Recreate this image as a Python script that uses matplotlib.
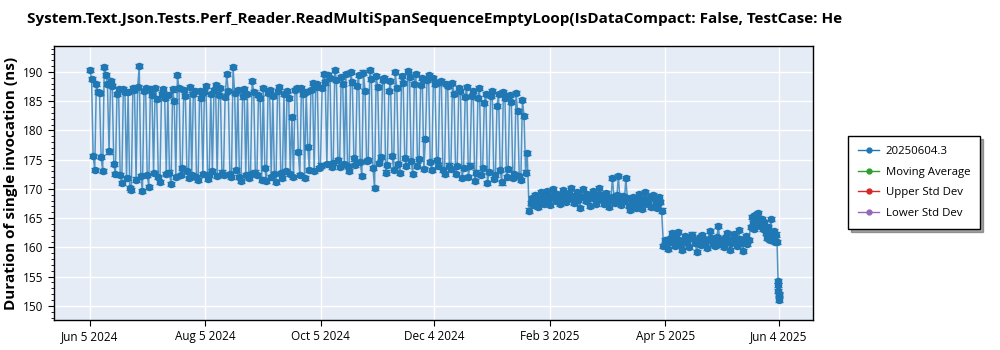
import numpy as np
import pandas as pd
import matplotlib
matplotlib.use('Agg')
import matplotlib.pyplot as plt
from matplotlib.ticker import MultipleLocator

plt.rcParams['font.family'] = ['Open Sans', 'DejaVu Sans']

title = 'System.Text.Json.Tests.Perf_Reader.ReadMultiSpanSequenceEmptyLoop(IsDataCompact: False, TestCase: He'
series_names = ['20250604.3', 'Moving Average', 'Upper Std Dev', 'Lower Std Dev']
series_colors = ['#1f77b4', '#2ca02c', '#d62728', '#9467bd']

# bimodal period, Jun 5 2024 -> Jan 22 2025
seg1_range = ('2024-06-05', '2025-01-22')
seg1 = [
    190.3, 188.8, 175.6, 173.3, 187.9, 186.5, 186.4, 175.5, 173.0, 190.9, 189.5, 187.9,
    176.4, 188.4, 187.6, 174.2, 172.6, 186.2, 187.1, 172.4, 171.0, 187.0, 186.6, 171.8,
    186.5, 170.2, 169.8, 187.3, 186.9, 171.6, 187.4, 191.0, 172.2, 169.6, 186.7, 187.2,
    172.4, 170.4, 187.0, 186.1, 172.7, 187.3, 185.4, 172.0, 171.2, 186.3, 187.1, 185.6,
    172.5, 186.0, 172.8, 170.8, 187.0, 185.0, 172.1, 189.4, 187.2, 172.3, 173.5, 186.9,
    185.9, 173.0, 171.8, 187.5, 172.4, 186.2, 186.8, 172.0, 171.5, 186.8, 185.5, 172.5,
    186.6, 187.6, 171.7, 172.4, 186.3, 173.0, 186.9, 187.8, 172.2, 186.1, 187.3, 172.8,
    172.3, 185.7, 189.6, 186.7, 172.6, 172.1, 190.8, 186.4, 173.2, 186.9, 172.0, 171.4,
    185.8, 187.0, 172.4, 186.2, 171.9, 172.5, 188.4, 186.6, 172.8, 172.3, 186.0, 185.5,
    171.6, 187.2, 173.5, 171.4, 186.4, 186.9, 172.0, 185.9, 172.5, 171.2, 186.7, 187.5,
    172.7, 171.8, 186.3, 173.1, 186.8, 185.6, 172.6, 182.3, 172.0, 186.9, 187.3, 176.3,
    172.3, 187.2, 186.3, 171.9, 186.6, 177.1, 173.3, 186.9, 188.1, 173.0, 187.5, 188.0,
    173.6, 174.0, 187.3, 189.7, 188.2, 174.2, 189.5, 188.9, 173.8, 174.5, 190.3, 188.6,
    175.0, 173.7, 189.2, 187.9, 174.3, 189.6, 173.9, 173.0, 190.0, 188.2, 175.2, 174.1,
    187.6, 189.4, 174.6, 172.2, 189.9, 186.8, 174.7, 175.0, 190.4, 188.8, 173.5, 170.1,
    189.3, 187.4, 174.5, 175.4, 188.7, 189.0, 172.8, 174.1, 186.7, 188.5, 175.6, 173.3,
    190.0, 187.2, 174.2, 172.7, 189.3, 188.1, 175.3, 173.9, 190.2, 189.1, 174.8, 172.6,
    188.0, 189.7, 174.0, 175.1, 187.8, 189.0, 173.4, 178.6, 188.7, 189.4, 174.6, 173.2,
    188.9, 187.9, 175.0, 174.0, 188.3, 188.4, 173.2, 172.6, 188.0, 187.6, 174.0, 173.4,
    188.1, 186.3, 172.5, 173.9, 187.3, 186.8, 171.8, 173.6, 185.7, 187.5, 172.1, 174.0,
    185.9, 186.8, 171.4, 172.8, 185.5, 187.2, 172.4, 173.5, 184.7, 186.3, 171.0, 172.9,
    185.9, 186.7, 171.7, 172.4, 184.2, 186.2, 173.3, 171.1, 186.5, 185.6, 172.0, 173.4,
    186.0, 184.9, 171.9, 172.6, 186.4, 183.3, 172.2, 171.5, 185.2, 182.5, 172.8, 176.1,
]

# ~168 plateau, Jan 23 -> Apr 3 2025
seg2_range = ('2025-01-23', '2025-04-03')
seg2 = [
    166.3, 167.6, 168.4, 167.2, 168.9, 167.8, 166.9, 168.3, 169.4, 168.0,
    167.5, 168.7, 169.6, 168.2, 167.3, 168.8, 170.0, 168.5, 167.9, 169.1,
    168.3, 167.4, 168.9, 169.8, 168.6, 167.7, 168.2, 169.3, 170.1, 168.8,
    167.6, 168.4, 169.5, 168.1, 166.8, 168.6, 169.9, 168.7, 167.9, 169.2,
    168.4, 167.1, 168.8, 169.7, 168.3, 167.5, 168.9, 170.2, 169.0, 168.1,
    167.4, 168.6, 169.3, 168.0, 166.9, 168.5, 171.8, 168.7, 167.6, 168.9,
    172.2, 168.2, 167.3, 168.8, 167.9, 171.8, 168.4, 167.0, 166.4, 167.8,
    168.6, 167.2, 166.7, 168.1, 169.2, 167.5, 166.5, 168.3, 169.5, 168.0,
    167.4, 168.7, 166.9, 169.0, 168.5, 167.8, 166.8, 168.6, 167.7, 166.3,
]

# ~161 plateau, Apr 4 -> May 19 2025
seg3_range = ('2025-04-04', '2025-05-19')
seg3 = [
    160.3, 161.2, 160.6, 159.8, 161.5, 160.9, 162.4, 161.0, 160.2, 161.8,
    162.6, 161.3, 160.5, 159.5, 161.1, 162.0, 160.8, 161.6, 160.1, 161.9,
    162.2, 161.4, 160.7, 159.2, 161.0, 161.7, 160.4, 162.1, 161.5, 160.9,
    159.9, 161.3, 162.8, 161.6, 160.6, 161.1, 160.3, 161.8, 163.6, 161.2,
    160.5, 161.4, 160.0, 161.7, 162.5, 161.0, 159.6, 160.8, 161.5, 162.3,
    161.1, 160.2, 162.9, 161.4, 160.7, 159.4, 161.2, 162.0, 160.6, 161.3,
]

# bump, May 20 -> May 27 2025
seg4_range = ('2025-05-20', '2025-05-27')
seg4 = [
    163.5, 165.2, 164.1, 163.2, 165.6, 164.4, 163.8, 165.8, 164.7, 163.6,
    164.9, 163.1, 164.3,
]

# back to ~162, May 28 -> Jun 3 2025
seg5_range = ('2025-05-28', '2025-06-03')
seg5 = [
    162.5, 161.6, 163.4, 162.0, 161.2, 164.9, 162.3, 161.5, 162.8, 161.0,
    162.2, 160.9,
]

# last drop, Jun 3 -> Jun 4 2025
seg6_range = ('2025-06-03 12:00', '2025-06-04')
seg6 = [154.2, 153.6, 152.5, 151.8, 151.0, 152.1]

spread = 0.35

segments = [(seg1_range, seg1), (seg2_range, seg2), (seg3_range, seg3),
            (seg4_range, seg4), (seg5_range, seg5), (seg6_range, seg6)]

dates = []
values = []
for (start, end), vals in segments:
    dates.extend(pd.date_range(start, end, periods=len(vals)))
    values.extend(vals)
dates = pd.DatetimeIndex(dates)
values = np.array(values)

tick_dates = ['2024-06-05', '2024-08-05', '2024-10-05', '2024-12-04',
              '2025-02-03', '2025-04-05', '2025-06-04']
tick_labels = ['Jun 5 2024', 'Aug 5 2024', 'Oct 5 2024', 'Dec 4 2024',
               'Feb 3 2025', 'Apr 5 2025', 'Jun 4 2025']

fig = plt.figure(figsize=(10, 3.5), dpi=100)
ax = fig.add_axes([0.054, 0.086, 0.759, 0.782])
ax.set_facecolor('#e5ecf6')

c = series_colors[0]
ax.plot(dates, values, color=c, lw=1.1, alpha=0.75, zorder=2)
ax.errorbar(dates, values, yerr=spread, fmt='o', color=c, ms=4.4,
            elinewidth=1, capsize=3, capthick=1, zorder=3)

handles = []
for name, col in zip(series_names, series_colors):
    h, = ax.plot([], [], color=col, lw=1, marker='o', ms=3.5, label=name)
    handles.append(h)

ax.set_xlim(pd.Timestamp('2024-05-17'), pd.Timestamp('2025-06-22'))
ax.set_ylim(147.6, 194.4)
ax.set_xticks(pd.to_datetime(tick_dates))
ax.set_xticklabels(tick_labels)
ax.yaxis.set_major_locator(MultipleLocator(5))
ax.yaxis.set_minor_locator(MultipleLocator(1))
ax.grid(True, which='major', color='white', lw=1)
ax.set_axisbelow(True)
ax.tick_params(axis='both', labelsize=8.5, color='black', length=4)
ax.tick_params(axis='y', which='minor', length=2)
for s in ax.spines.values():
    s.set_color('black')
    s.set_linewidth(1)

ax.set_ylabel('Duration of single invocation (ns)', fontsize=11, fontweight='bold')
fig.text(0.027, 0.945, title, fontsize=11, fontweight='bold', ha='left', va='center')

leg = fig.legend(handles=handles, loc='upper left', bbox_to_anchor=(0.848, 0.612),
                 borderaxespad=0, fontsize=8.2, frameon=True, fancybox=False,
                 shadow=True, handlelength=1.8, handletextpad=0.6,
                 borderpad=0.9, labelspacing=0.85)
leg.get_frame().set_edgecolor('black')
leg.get_frame().set_linewidth(1)

fig.savefig('out.png', dpi=100)
